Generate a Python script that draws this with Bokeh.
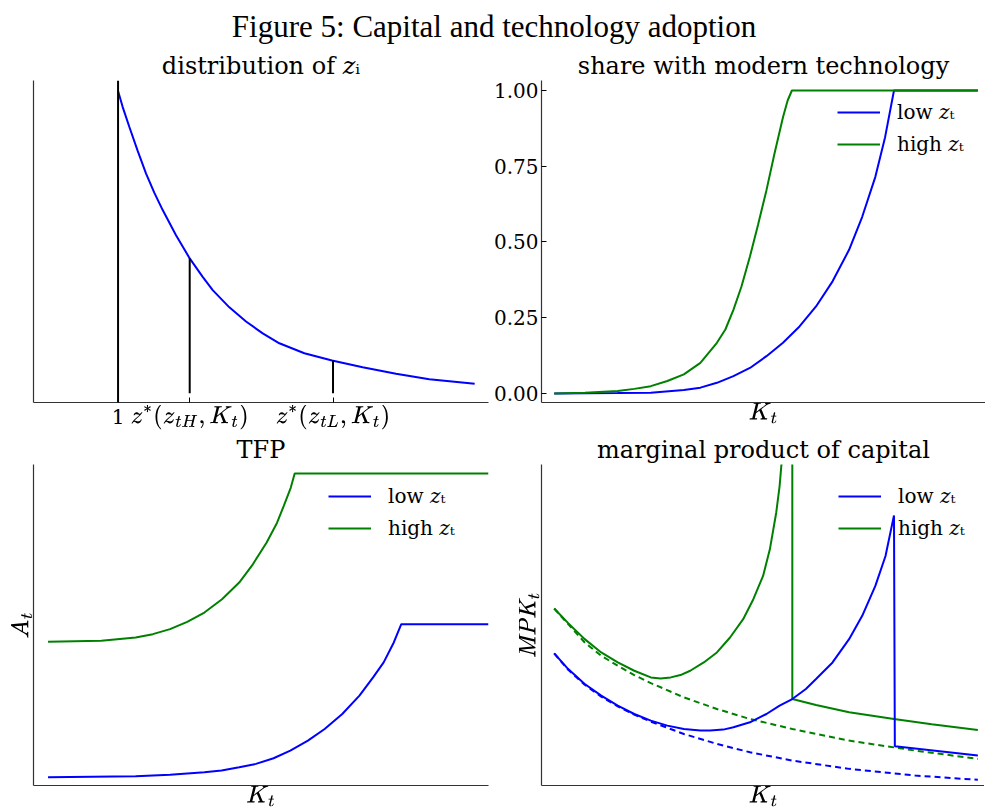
from bokeh.plotting import figure
from bokeh.layouts import column, gridplot
from bokeh.models import Div, Span, FixedTicker, TeX, Range1d, Legend, LegendItem
from bokeh.embed import file_html
from bokeh.resources import INLINE

# distribution of z_i
z_grid = [1.0, 1.065, 1.158, 1.274, 1.391, 1.507, 1.623, 1.809, 2.0, 2.181, 2.321, 2.553, 2.786,
          3.019, 3.251, 3.600, 3.986, 4.414, 4.879, 5.344, 5.977]
z_dens = [1.0, 0.947, 0.881, 0.802, 0.727, 0.663, 0.606, 0.523, 0.446, 0.385, 0.341, 0.284, 0.237,
          0.198, 0.165, 0.132, 0.108, 0.086, 0.064, 0.046, 0.031]
z_star = [2.0, 4.0]
z_star_dens = [0.446, 0.108]

# share with modern technology
sh_k_high = [0, 0.724, 1.50, 1.89, 2.28, 2.67, 3.06, 3.45, 3.84, 4.04, 4.23, 4.42, 4.62, 4.81,
             5.01, 5.20, 5.40, 5.51, 5.61, 10]
sh_high = [0, 0.002, 0.008, 0.015, 0.024, 0.041, 0.063, 0.101, 0.167, 0.211, 0.276, 0.353, 0.452,
           0.556, 0.671, 0.792, 0.912, 0.967, 1.0, 1.0]
sh_k_low = [0, 1.50, 2.28, 3.06, 3.45, 3.84, 4.23, 4.62, 5.01, 5.40, 5.79, 6.18, 6.57, 6.96,
            7.27, 7.58, 7.81, 8.02, 10]
sh_low = [0, 0.001, 0.002, 0.011, 0.019, 0.035, 0.057, 0.084, 0.123, 0.167, 0.221, 0.287, 0.370,
          0.474, 0.583, 0.715, 0.846, 1.0, 1.0]

# TFP
tfp_k_high = [0, 1.21, 1.99, 2.38, 2.77, 3.16, 3.55, 3.95, 4.34, 4.65, 4.96, 5.20, 5.35, 5.51, 5.60, 10]
tfp_high = [4.32, 4.35, 4.45, 4.55, 4.70, 4.92, 5.20, 5.60, 6.10, 6.65, 7.30, 7.90, 8.40, 8.95, 9.38, 9.38]
tfp_k_low = [0, 1.99, 2.77, 3.55, 3.94, 4.34, 4.72, 5.12, 5.50, 5.90, 6.28, 6.68, 7.07, 7.38,
             7.62, 7.85, 8.02, 10]
tfp_low = [0.25, 0.28, 0.32, 0.40, 0.45, 0.55, 0.65, 0.82, 1.05, 1.35, 1.70, 2.15, 2.70, 3.25,
           3.70, 4.30, 4.85, 4.85]

# marginal product of capital
mpk_k_high = [0, 0.33, 0.72, 1.11, 1.50, 1.89, 2.28, 2.51, 2.75, 2.98, 3.21, 3.53, 3.84, 4.15,
              4.46, 4.70, 4.93, 5.09, 5.24, 5.32, 5.40, 5.62, 5.62, 6.18, 6.96, 8.02, 8.91, 10]
mpk_high = [5.32, 4.88, 4.40, 4.00, 3.70, 3.45, 3.25, 3.22, 3.25, 3.32, 3.45, 3.70, 4.00, 4.45,
            5.00, 5.60, 6.30, 7.10, 8.20, 9.00, 10.2, 10.2, 2.60, 2.42, 2.20, 2.00, 1.84, 1.67]
mpk_k_low = [0, 0.33, 0.72, 1.11, 1.50, 1.89, 2.28, 2.67, 3.06, 3.45, 3.68, 3.99, 4.23, 4.62,
             5.01, 5.32, 5.62, 5.94, 6.18, 6.57, 6.96, 7.27, 7.58, 7.82, 8.02, 8.04, 10]
mpk_low = [3.97, 3.50, 3.05, 2.70, 2.40, 2.15, 1.95, 1.80, 1.70, 1.65, 1.65, 1.68, 1.75, 1.90,
           2.15, 2.40, 2.60, 2.90, 3.20, 3.70, 4.40, 5.10, 6.00, 6.90, 8.12, 1.18, 0.90]
mpk_k_dash = [0, 0.33, 0.72, 1.11, 1.50, 1.89, 2.28, 3.06, 3.84, 4.62, 5.62, 6.96, 8.52, 10]
mpk_high_dash = [5.32, 4.85, 4.30, 3.90, 3.60, 3.32, 3.08, 2.65, 2.30, 2.00, 1.70, 1.35, 1.05, 0.80]
mpk_low_dash = [3.97, 3.48, 3.03, 2.67, 2.38, 2.13, 1.92, 1.55, 1.25, 1.00, 0.75, 0.50, 0.30, 0.17]

BLUE = "#0000ff"
GREEN = "#008000"
SERIF = "DejaVu Serif"


def make_fig(title, frame_w, frame_h, left, right, top, bottom):
    p = figure(frame_width=frame_w, frame_height=frame_h, output_backend="svg",
               toolbar_location=None, min_border_left=left, min_border_right=right,
               min_border_top=top, min_border_bottom=bottom)
    p.title.text = title
    p.title.text_font = SERIF
    p.title.text_font_size = "24px"
    p.title.text_font_style = "normal"
    p.title.text_color = "black"
    p.title.align = "center"
    p.title.standoff = 2
    p.outline_line_color = None
    p.grid.visible = False
    for ax in (p.xaxis, p.yaxis):
        ax.axis_line_color = "#333333"
        ax.axis_line_width = 1.2
        ax.major_tick_in = 0
        ax.major_tick_out = 0
        ax.minor_tick_line_color = None
        ax.major_label_text_font = SERIF
        ax.major_label_text_font_size = "20px"
        ax.major_label_text_color = "black"
        ax.axis_label_text_font_size = "21px"
        ax.axis_label_text_font_style = "normal"
        ax.axis_label_text_color = "black"
        ax.axis_label_standoff = 4
    return p


def no_ticks(ax):
    ax.ticker = FixedTicker(ticks=[])
    ax.major_label_text_font_size = "0px"


def add_legend(p, r_low, r_high, x, y):
    leg = Legend(items=[LegendItem(label="low 𝑧ₜ", renderers=[r_low]),
                        LegendItem(label="high 𝑧ₜ", renderers=[r_high])],
                 location=(x, y))
    leg.border_line_color = None
    leg.background_fill_alpha = 0
    leg.label_text_font = SERIF
    leg.label_text_font_size = "20px"
    leg.label_text_color = "black"
    leg.glyph_width = 43
    leg.glyph_height = 24
    leg.label_height = 24
    leg.label_standoff = 17
    leg.spacing = 8
    leg.padding = 0
    leg.margin = 0
    p.add_layout(leg)


# top left
p1 = make_fig("distribution of 𝑧ᵢ", 455, 322, 33, 2, 27, 30)
p1.x_range = Range1d(-0.18, 6.17)
p1.y_range = Range1d(-0.031, 1.035)
p1.line(z_grid, z_dens, color=BLUE, line_width=2)
p1.add_layout(Span(location=1, dimension="height", line_color="black", line_width=2))
p1.segment(x0=z_star, y0=[0, 0], x1=z_star, y1=z_star_dens, color="black", line_width=2)
p1.xaxis.ticker = FixedTicker(ticks=[1] + z_star)
p1.xaxis.major_label_overrides = {1: "1", 2: TeX(r"z^*(z_{tH},K_t)"), 4: TeX(r"z^*(z_{tL},K_t)")}
p1.xaxis.major_tick_in = 5
p1.xaxis.major_label_standoff = 2
no_ticks(p1.yaxis)

# top right
p2 = make_fig("share with modern technology", 444, 322, 50, 0, 27, 30)
p2.x_range = Range1d(-0.3, 10.18)
p2.y_range = Range1d(-0.03, 1.033)
rl = p2.line(sh_k_low, sh_low, color=BLUE, line_width=2)
rh = p2.line(sh_k_high, sh_high, color=GREEN, line_width=2)
p2.yaxis.ticker = FixedTicker(ticks=[0, 0.25, 0.5, 0.75, 1.0])
p2.yaxis.major_label_overrides = {0: "0.00", 0.25: "0.25", 0.5: "0.50", 0.75: "0.75", 1.0: "1.00"}
p2.yaxis.major_tick_in = 5
p2.yaxis.major_label_standoff = 3
no_ticks(p2.xaxis)
p2.xaxis.axis_label = TeX(r"K_t")
p2.xaxis.axis_label_standoff = 0
add_legend(p2, rl, rh, 296, 246)

# bottom left
p3 = make_fig("TFP", 455, 321, 33, 2, 32, 25)
p3.x_range = Range1d(-0.33, 10.0)
p3.y_range = Range1d(0, 9.65)
rl = p3.line(tfp_k_low, tfp_low, color=BLUE, line_width=2)
rh = p3.line(tfp_k_high, tfp_high, color=GREEN, line_width=2)
no_ticks(p3.xaxis)
no_ticks(p3.yaxis)
p3.xaxis.axis_label = TeX(r"K_t")
p3.yaxis.axis_label = TeX(r"A_t")
p3.xaxis.axis_label_standoff = 0
p3.yaxis.axis_label_standoff = 0
add_legend(p3, rl, rh, 295, 245)

# bottom right
p4 = make_fig("marginal product of capital", 444, 321, 50, 0, 32, 25)
p4.x_range = Range1d(-0.3, 10.18)
p4.y_range = Range1d(0, 9.65)
p4.line(mpk_k_dash, mpk_high_dash, color=GREEN, line_width=2, line_dash="6 4")
p4.line(mpk_k_dash, mpk_low_dash, color=BLUE, line_width=2, line_dash="6 4")
rh = p4.line(mpk_k_high, mpk_high, color=GREEN, line_width=2)
rl = p4.line(mpk_k_low, mpk_low, color=BLUE, line_width=2)
no_ticks(p4.xaxis)
no_ticks(p4.yaxis)
p4.xaxis.axis_label = TeX(r"K_t")
p4.yaxis.axis_label = TeX(r"\mathit{MPK}_t")
p4.xaxis.axis_label_standoff = 0
p4.yaxis.axis_label_standoff = 0
add_legend(p4, rl, rh, 314, 245)

title = Div(text="Figure 5: Capital and technology adoption", width=978, height=38,
            styles={"font-family": "Liberation Serif", "font-size": "31px",
                    "text-align": "center", "width": "978px", "color": "black",
                    "line-height": "44px"})

grid = gridplot([[p1, p2], [p3, p4]], toolbar_location=None)
p = column(title, grid)

open("out.html", "w").write(file_html(p, INLINE))
